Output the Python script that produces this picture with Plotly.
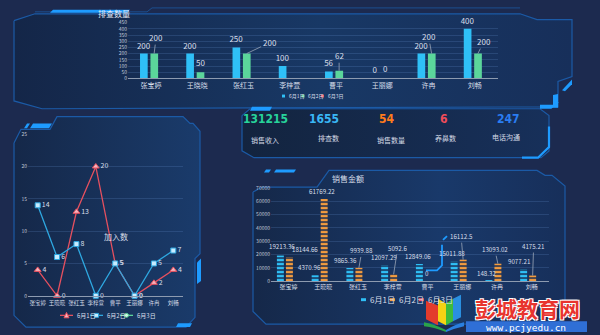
import plotly.graph_objects as go

# ---------------- data ----------------
names = ["张宝婷", "王晓晓", "张红玉", "李梓萱", "曹平", "王丽娜", "许冉", "刘畅"]
series_names = ["6月1日", "6月2日", "6月3日"]

check_d1 = [200, 200, 250, 100, 56, 0, 200, 400]
check_d2 = [200, 50, 200, None, 62, 0, 200, 200]
check_d3 = [None] * 8

join_d1 = [4, 0, 13, 20, 5, 0, 2, 4]
join_d2 = [14, 6, 8, 0, 5, 0, 5, 7]
join_d3 = [None] * 8

sales_d1 = [19213.36, 4370.96, 9865.36, 12097.29, 12849.06, 15011.88, 148.32, 9077.21]
sales_d2 = [18144.66, 61769.22, 9939.88, 5092.6, 0, 16112.5, 13093.02, 4175.21]
sales_d3 = [None] * 8

kpi_values = ["131215", "1655", "54", "6", "247"]
kpi_labels = ["销售收入", "排查数", "销售数量", "养鼻数", "电话沟通"]

# ---------------- style ----------------
W, H = 600, 335
BG = "#1c2a4f"
BORDER = "#1b5aa6"
ACCENT = "#1e9bff"
CYAN = "#2fc0f7"
GREEN = "#5bd69b"
RED = "#ee5a6a"
ORANGE = "#f39c3f"
TXT = "#d8dfea"
GRID = "rgba(110,155,220,0.20)"
CJK = "Noto Sans CJK SC, Liberation Sans, sans-serif"
NARROW = "Liberation Sans Narrow, DejaVu Sans Condensed, Arial Narrow, sans-serif"

fig = go.Figure()

def poly(pts, grad=None, fill=None, line=None, lw=1.0, close=True):
    xs = [p[0] for p in pts]
    ys = [p[1] for p in pts]
    if close:
        xs.append(pts[0][0]); ys.append(pts[0][1])
    kw = dict(x=xs, y=ys, mode="lines", hoverinfo="skip", showlegend=False,
              xaxis="x", yaxis="y",
              line=dict(color=line if line else "rgba(0,0,0,0)", width=lw if line else 0))
    if grad is not None:
        kw["fill"] = "toself"
        kw["fillgradient"] = dict(type="horizontal", colorscale=grad)
    elif fill is not None:
        kw["fill"] = "toself"
        kw["fillcolor"] = fill
    fig.add_trace(go.Scatter(**kw))

def pline(pts, color=ACCENT, lw=2.0):
    fig.add_trace(go.Scatter(x=[p[0] for p in pts], y=[p[1] for p in pts], mode="lines",
                             line=dict(color=color, width=lw), hoverinfo="skip",
                             showlegend=False, xaxis="x", yaxis="y"))

grad_panel = [[0, "#142648"], [0.55, "#183865"], [1, "#172f5a"]]

# panels
poly([(14, 17), (35, 10), (520, 10), (537, 16), (572, 16), (572, 74), (558, 79),
      (558, 105), (42, 107), (14, 99)], grad=grad_panel, line=BORDER, lw=1.2)
poly([(242, 114), (250, 107), (540, 107), (549, 114), (549, 150), (541, 157),
      (254, 157), (242, 150)], grad=[[0, "#13243f"], [1, "#17305a"]], line=BORDER, lw=1.2)
poly([(14, 142), (21, 128), (50, 128), (57, 115), (183, 115), (190, 122), (193, 122),
      (200, 130), (200, 255), (195, 260), (195, 320), (186, 330), (26, 330), (14, 318)],
     grad=[[0, "#152849"], [1, "#1a3b6b"]], line=BORDER, lw=1.2)
poly([(253, 192), (262, 187), (317, 187), (329, 170), (537, 170), (545, 175), (552, 175),
      (565, 186), (565, 318), (556, 327), (266, 327), (253, 314)],
     grad=[[0, "#152849"], [0.6, "#19396a"], [1, "#172f5a"]], line=BORDER, lw=1.2)

# header lines
pline([(35, 8), (147, 8), (152, 4), (520, 4)], color="#1b4f90", lw=1)

# accents
poly([(53, 6), (130, 6), (127, 9), (50, 9)], fill=ACCENT)
poly([(562, 88), (572, 77), (572, 82), (565, 89)], fill=ACCENT)
poly([(553, 93), (558, 92), (558, 106), (540, 106), (540, 103), (553, 103)], fill=ACCENT)
poly([(252, 105), (272, 105), (270, 109), (250, 109)], fill=ACCENT)
pline([(549, 125), (549, 146), (538, 157), (522, 157)], lw=2.2)
pline([(540, 106), (551, 106), (558, 100)], lw=2)
poly([(33, 122), (52, 122), (49, 127), (30, 127)], fill=ACCENT)
poly([(27, 122), (30, 122), (27, 127), (24, 127)], fill=ACCENT)
poly([(197, 264), (201, 260), (201, 283), (197, 286)], fill=ACCENT)
poly([(178, 326), (192, 326), (190, 330), (176, 330)], fill=ACCENT)
poly([(266, 169), (271, 169), (269, 172), (264, 172)], fill=ACCENT)
poly([(276, 169), (296, 169), (294, 172), (274, 172)], fill=ACCENT)
pline([(426, 272), (437, 272), (442, 267), (442, 246)], lw=1.8)
pline([(443, 241), (447, 237)], lw=1.8)

# ---------------- top bar chart (排查数量) ----------------
top_colors = [CYAN, GREEN, RED]
top_offsets = [-0.24, -0.015, 0.21]
for s, vals in enumerate([check_d1, check_d2, check_d3]):
    fig.add_trace(go.Bar(
        x=names, y=vals, name=series_names[s], xaxis="x2", yaxis="y2",
        marker=dict(color=top_colors[s], line=dict(width=0)),
        width=0.166, offset=top_offsets[s], showlegend=False, hoverinfo="skip",
        text=[str(v) if (v is not None and s == 0) else "" for v in vals],
        textposition="outside", constraintext="none", cliponaxis=False,
        textfont=dict(size=8, color=TXT, family=CJK)))

green_label_off = [(2, -16), None, (23, -11), None, (0, -15), None, (-3, -17), (6, -12)]
annotations = []
for i, v in enumerate(check_d2):
    if v is None:
        continue
    off = green_label_off[i]
    base = dict(x=names[i], y=v, xref="x2", yref="y2", text=str(v), xshift=3,
                font=dict(size=8, color=TXT, family=CJK))
    if off is None:
        base.update(showarrow=False, yanchor="bottom", yshift=2)
    else:
        base.update(showarrow=True, ax=off[0], ay=off[1], arrowhead=0, arrowwidth=0.8,
                    arrowcolor="#9aa6b8", standoff=0)
    annotations.append(base)

# ---------------- line chart (加入数) ----------------
line_cfg = [
    dict(color="#e5505f", symbol="triangle-up", fill="#f6b3bb", size=6),
    dict(color="#2ea7e0", symbol="square", fill="#c8ecff", size=5),
    dict(color=GREEN, symbol="circle", fill="#d5f7e6", size=5),
]
for s, vals in enumerate([join_d1, join_d2, join_d3]):
    c = line_cfg[s]
    fig.add_trace(go.Scatter(
        x=names, y=vals, name=series_names[s], xaxis="x3", yaxis="y3",
        mode="lines+markers+text", line=dict(color=c["color"], width=1.3),
        marker=dict(symbol=c["symbol"], size=c["size"], color=c["fill"],
                    line=dict(color=c["color"], width=1)),
        text=[str(v) if v is not None else "" for v in vals],
        textposition="middle right", cliponaxis=False,
        textfont=dict(size=7, color=TXT, family=CJK),
        showlegend=False, hoverinfo="skip"))

# ---------------- segmented bar chart (销售金额) ----------------
bot_colors = [CYAN, ORANGE, RED]
bot_offsets = [-0.33, -0.07, 0.19]
for s, vals in enumerate([sales_d1, sales_d2, sales_d3]):
    fig.add_trace(go.Bar(
        x=names, y=vals, name=series_names[s], xaxis="x4", yaxis="y4",
        width=0.2, offset=bot_offsets[s], showlegend=False, hoverinfo="skip",
        marker=dict(color=bot_colors[s], line=dict(width=0),
                    pattern=dict(shape="-", fgcolor="#152a50", bgcolor=bot_colors[s],
                                 size=4, solidity=0.38, fillmode="replace"))))

cyan_lab = [(-6, 3), (-14, 1), (-12, 1), (-9, 1), (-9.5, 1), (-10, 1), (-10, 1), (-12, 1)]
for i, v in enumerate(sales_d1):
    annotations.append(dict(x=names[i], y=v, xref="x4", yref="y4", text=str(v),
                            showarrow=False, xshift=cyan_lab[i][0], yanchor="bottom",
                            yshift=cyan_lab[i][1],
                            font=dict(size=6.2, color=TXT, family=CJK)))
orange_lab = [("t", 17), ("t", -1), ("a", 3, -17), ("a", 4, -26), ("t", 0),
              ("a", -2, -23), ("a", -3, -14), ("a", 1, -29)]
for i, v in enumerate(sales_d2):
    lab = orange_lab[i]
    base = dict(x=names[i], y=v, xref="x4", yref="y4", text=str(v),
                font=dict(size=6.2, color=TXT, family=CJK))
    if lab[0] == "t":
        base.update(showarrow=False, xshift=lab[1], yanchor="bottom", yshift=1)
    else:
        base.update(showarrow=True, xshift=1, ax=lab[1], ay=lab[2], arrowhead=0,
                    arrowwidth=0.8, arrowcolor="#9aa6b8", standoff=0)
    annotations.append(base)

# ---------------- titles ----------------
def deco_text(x, y, text, size, color=TXT, family=CJK, xanchor="center", weight=None, shadow=None):
    f = dict(size=size, color=color, family=family)
    if weight:
        f["weight"] = weight
    if shadow:
        f["shadow"] = shadow
    annotations.append(dict(x=x, y=y, xref="x", yref="y", text=text, showarrow=False,
                            xanchor=xanchor, yanchor="middle", font=f))

deco_text(96, 9.5, "排查数量", 8, color="#e6ecf5", xanchor="left")
deco_text(116, 237, "加入数", 8)
deco_text(348, 178, "销售金额", 8)

# KPI block
kpi_colors = ["#27d39a", "#39b7f5", "#ff7b1c", "#f04c5a", "#2a7df2"]
kpi_x = [265, 324, 387, 444, 508]
kpi_lx = [265, 328, 391, 445, 506]
kpi_ly = [139, 137, 139, 137, 136]
for i in range(5):
    deco_text(kpi_x[i], 117, kpi_values[i], 12, color=kpi_colors[i], family=NARROW, weight="bold")
    deco_text(kpi_lx[i], kpi_ly[i], kpi_labels[i], 7, color="#d5dbe6")

# ---------------- manual legends ----------------
shapes = []
def sq(x0, y0, x1, y1, color):
    shapes.append(dict(type="rect", xref="x", yref="y", x0=x0, x1=x1, y0=y0, y1=y1,
                       fillcolor=color, line=dict(width=0), layer="above"))

for i, c in enumerate(top_colors):
    x = 282 + i * 19.5
    sq(x, 92.5, x + 3, 95.5, c)
    deco_text(x + 4.5, 94, series_names[i], 5, xanchor="left")

for i, c in enumerate(bot_colors):
    x = 361 + i * 29
    sq(x, 300.5, x + 5, 303.5, c)
    deco_text(x + 7, 302, series_names[i], 8, xanchor="left")

leg_x = [60, 90, 120]
for i in range(3):
    c = line_cfg[i]
    x = leg_x[i]
    shapes.append(dict(type="line", xref="x", yref="y", x0=x, x1=x + 13, y0=318, y1=318,
                       line=dict(color=c["color"], width=1.3), layer="above"))
    if i == 0:
        shapes.append(dict(type="path", xref="x", yref="y",
                           path=f"M{x+4},{320.5} L{x+9},{320.5} L{x+6.5},{315} Z",
                           fillcolor=c["fill"], line=dict(color=c["color"], width=1), layer="above"))
    elif i == 1:
        shapes.append(dict(type="rect", xref="x", yref="y", x0=x + 4.5, x1=x + 8.5, y0=316, y1=320,
                           fillcolor=c["fill"], line=dict(color=c["color"], width=1), layer="above"))
    else:
        shapes.append(dict(type="circle", xref="x", yref="y", x0=x + 4.5, x1=x + 8.5, y0=316, y1=320,
                           fillcolor=c["fill"], line=dict(color=c["color"], width=1), layer="above"))
    deco_text(x + 15, 318, series_names[i], 6, xanchor="left")

# ---------------- watermark ----------------
shapes.append(dict(type="rect", xref="x", yref="y", x0=466, x1=587, y0=324, y1=335,
                   fillcolor="#2f6fd6", line=dict(width=0), layer="above"))
book = [
    ("M426,303 L438,308 L438,328 L426,322 Z", "#e33b2c"),
    ("M438,301 L446,306 L446,328 L438,324 Z", "#f5d214"),
    ("M446,306 L453,301 L453,324 L446,328 Z", "#3dbb3c"),
    ("M453,301 L461,297 L461,320 L453,324 Z", "#2a8fe0"),
    ("M424,325 Q435,327 446,333 L446,335 Q435,330 424,329 Z", "#2aa34a"),
    ("M446,333 Q455,327 464,325 L464,329 Q455,331 446,335 Z", "#2a7fe0"),
]
for p, col in book:
    shapes.append(dict(type="path", xref="x", yref="y", path=p, fillcolor=col,
                       line=dict(width=0), layer="above"))
deco_text(527, 310.5, "彭城教育网", 21, color="#e8342e", weight="bold",
          shadow="-1px -1px 0 #fff, 1px -1px 0 #fff, -1px 1px 0 #fff, 1px 1px 0 #fff")
deco_text(526, 330, "www.pcjyedu.cn", 9.5, color="#ffffff", family="DejaVu Sans Mono, monospace")

# ---------------- layout ----------------
def cat_axis(domain, size, standoff=0):
    return dict(domain=domain, type="category", range=[-0.5, 7.5], showgrid=False,
                showline=True, linecolor="#8d9bb0", linewidth=1, ticks="", zeroline=False,
                tickangle=0, ticklabelstandoff=standoff,
                tickfont=dict(size=size, color=TXT, family=CJK), fixedrange=True)

def val_axis(domain, rng, dtick, anchor):
    return dict(domain=domain, range=rng, dtick=dtick, showgrid=True, gridcolor=GRID,
                gridwidth=1, zeroline=False, showline=False, ticks="", anchor=anchor,
                tickformat="d", tickfont=dict(size=5, color="#c0c8d8", family=CJK),
                fixedrange=True)

fig.update_layout(
    width=W, height=H, margin=dict(l=0, r=0, t=0, b=0),
    paper_bgcolor=BG, plot_bgcolor="rgba(0,0,0,0)",
    barmode="overlay", showlegend=False,
    font=dict(family=CJK, color=TXT),
    xaxis=dict(domain=[0, 1], range=[0, W], visible=False, fixedrange=True),
    yaxis=dict(domain=[0, 1], range=[H, 0], visible=False, fixedrange=True),
    xaxis2=dict(cat_axis([128 / W, 498 / W], 7), anchor="y2"),
    yaxis2=val_axis([1 - 76 / H, 1 - 19 / H], [0, 450], 50, "x2"),
    xaxis3=dict(cat_axis([28 / W, 183 / W], 5.5, standoff=2), anchor="y3"),
    yaxis3=val_axis([1 - 298 / H, 1 - 133 / H], [0, 25], 5, "x3"),
    xaxis4=dict(cat_axis([271 / W, 549 / W], 6), anchor="y4"),
    yaxis4=val_axis([1 - 283 / H, 1 - 188 / H], [0, 70000], 10000, "x4"),
    annotations=annotations, shapes=shapes,
)

fig.write_html("out.html")
